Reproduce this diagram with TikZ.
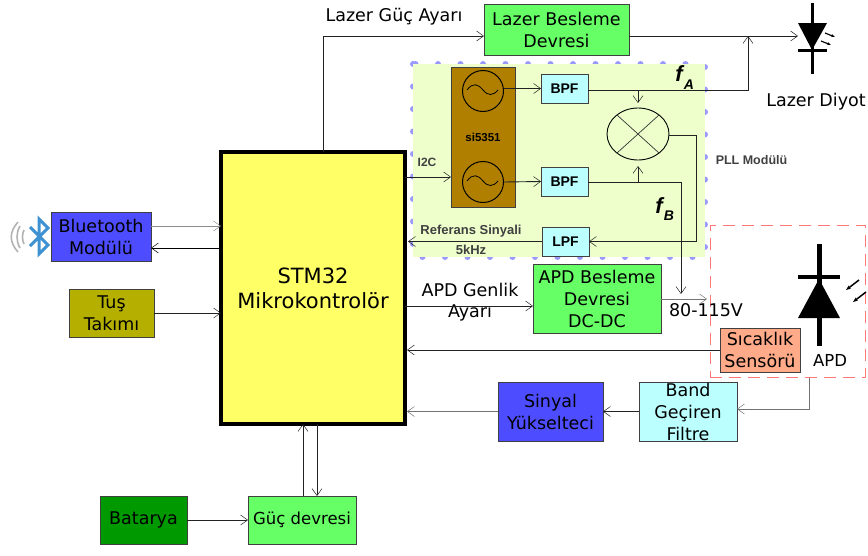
\documentclass[tikz,border=0pt]{standalone}
\usepackage{fontspec}
\setmainfont{DejaVu Sans}
\newfontfamily\arialf{Liberation Sans}
\usetikzlibrary{arrows.meta,shapes.geometric}
\definecolor{cgreen}{HTML}{66FF66}
\definecolor{cyell}{HTML}{FFFF66}
\definecolor{cpanel}{HTML}{EEFFCC}
\definecolor{cbrown}{HTML}{B07F00}
\definecolor{ccyan}{HTML}{BBFFFF}
\definecolor{cblue}{HTML}{4D4DFF}
\definecolor{colive}{HTML}{B5B000}
\definecolor{cdark}{HTML}{009900}
\definecolor{csal}{HTML}{FFAA88}
\definecolor{cdot}{HTML}{9999FF}
\definecolor{cdash}{HTML}{FF7777}
\definecolor{cline}{HTML}{222222}
\definecolor{cbt}{HTML}{3F92D2}
\tikzset{
  box/.style={draw=black!75,line width=1pt,inner sep=0pt,outer sep=0pt,align=center,
    font=\fontsize{17.5}{22}\selectfont,text=black},
  smallbox/.style={box,fill=ccyan,font=\arialf\fontsize{14}{16}\selectfont\bfseries},
  conn/.style={draw=cline,line width=0.9pt,-{Straight Barb[length=7pt,width=10pt,line width=0.5pt]}},
  lbl/.style={inner sep=0pt,outer sep=0pt,align=center,font=\fontsize{17.5}{21}\selectfont},
  slbl/.style={inner sep=0pt,outer sep=0pt,align=center,font=\arialf\fontsize{13}{20}\selectfont\bfseries\color{black!75}},
  osc/.style={circle,draw=black,line width=1pt,inner sep=0pt,outer sep=0pt,minimum size=41pt},
  wave/.style={line width=0.8pt},
  btwave/.style={line width=1.6pt,draw=black!30},
}
\begin{document}
\begin{tikzpicture}[x=1pt,y=-1pt]
\useasboundingbox (0,0) rectangle (868,555);
% PLL panel
\draw[cdot,line width=6pt,line cap=round,dash pattern=on 0pt off 22.5pt] (413,64) rectangle (705,257);
\node[fill=cpanel,inner sep=0pt,outer sep=0pt,minimum width=292pt,minimum height=193pt] (panel) at (559,160.5) {};
% APD dashed box
\node[draw=cdash,dash pattern=on 12pt off 7pt,line width=0.9pt,inner sep=0pt,minimum width=155pt,minimum height=152pt] (apdbox) at (787.5,301) {};
% Main boxes
\node[box,fill=cyell,draw=black,line width=3.5pt,minimum width=184pt,minimum height=272pt,font=\fontsize{21}{25}\selectfont] (mcu) at (313,288) {STM32\\Mikrokontrolör};
\node[box,fill=cgreen,minimum width=145pt,minimum height=51pt] (laser) at (556.5,29.5) {Lazer Besleme\\Devresi};
\node[box,fill=cblue,minimum width=100pt,minimum height=49pt] (bt) at (101,236.5) {Bluetooth\\Modülü};
\node[box,fill=colive,minimum width=85pt,minimum height=48pt] (tus) at (111.5,313) {Tuş\\Takımı};
\node[box,fill=cgreen,minimum width=128pt,minimum height=69pt] (apdps) at (597,298.5) {APD Besleme\\Devresi\\DC-DC};
\node[box,fill=csal,minimum width=80pt,minimum height=44pt] (temp) at (760,350) {Sıcaklık\\Sensörü};
\node[box,fill=ccyan,minimum width=98pt,minimum height=59pt] (band) at (688,411.5) {Band\\Geçiren\\Filtre};
\node[box,fill=cblue,minimum width=105pt,minimum height=59pt] (amp) at (550.5,411.5) {Sinyal\\Yükselteci};
\node[box,fill=cdark,minimum width=87pt,minimum height=48pt] (bat) at (143.5,520) {Batarya};
\node[box,fill=cgreen,minimum width=108pt,minimum height=48pt,font=\fontsize{16.5}{22}\selectfont] (pwr) at (302,520) {Güç devresi};
% PLL internals
\node[box,fill=cbrown,minimum width=64pt,minimum height=140pt,font=\arialf\fontsize{11.5}{12}\selectfont\bfseries] (si) at (483,137) {si5351};
\node[osc] (o1) at (483,91) {};
\node[osc] (o2) at (483,182) {};
\draw[wave] (467,90) .. controls (473,82) and (478,84) .. (483,90) .. controls (488,96) and (493,96) .. (498,90);
\draw[wave] (467,181) .. controls (473,173) and (478,175) .. (483,181) .. controls (488,187) and (493,187) .. (498,181);
\node[smallbox,minimum width=47pt,minimum height=29pt] (b1) at (564.5,88.5) {BPF};
\node[smallbox,minimum width=47pt,minimum height=29pt] (b2) at (564.5,181.5) {BPF};
\node[smallbox,minimum width=47pt,minimum height=29pt] (lpf) at (565.5,241.5) {LPF};
\node[draw=black,line width=0.9pt,ellipse,inner sep=0pt,outer sep=0pt,minimum width=62pt,minimum height=52pt] (mix) at (638,134) {};
\draw[line width=0.7pt,draw=black!80] (617,115) -- (659,153) (659,115) -- (617,153);
% Labels
\node[lbl] (l1) at (394,17) {Lazer Güç Ayarı};
\node[lbl] (l2) at (816,102) {Lazer Diyot};
\node[lbl] (l3) at (470,302.5) {APD Genlik\\Ayarı};
\node[lbl] (l4) at (706,310) {80-115V};
\node[lbl,font=\fontsize{16.5}{20}\selectfont] (l5) at (830,360) {APD};
\node[slbl,font=\arialf\fontsize{12}{14}\selectfont\bfseries\color{black!75}] (l6) at (427,162) {I2C};
\node[slbl] (l7) at (471,239.5) {Referans Sinyali\\5kHz};
\node[slbl,font=\arialf\fontsize{12.5}{14}\selectfont\bfseries\color{black!75}] (l8) at (751.5,160) {PLL Modülü};
\node[inner sep=0pt,font=\arialf\fontsize{22}{24}\selectfont\bfseries\itshape] (fa) at (679,74) {f};
\node[inner sep=0pt,font=\arialf\fontsize{14}{16}\selectfont\bfseries\itshape] (fas) at (689,85) {A};
\node[inner sep=0pt,font=\arialf\fontsize{22}{24}\selectfont\bfseries\itshape] (fb) at (659,206) {f};
\node[inner sep=0pt,font=\arialf\fontsize{14}{16}\selectfont\bfseries\itshape] (fbs) at (669,216) {B};
% Connectors
\coordinate (c1) at (323,36);
\coordinate (lj) at (748,36);
\coordinate (ldi) at (798,36);
\draw[conn] (mcu.north -| c1) -- (c1) -- (laser.west |- c1);
\draw[conn] (laser.east |- ldi) -- (ldi);
\coordinate (fa1) at (748,90);
\draw[conn] (b1.east |- fa1) -- (fa1) -- (lj);
\coordinate (ma) at (638,90);
\draw[conn,shorten >=5pt] (ma) -- (mix.north);
\coordinate (mb) at (638,182);
\draw[conn,shorten >=6pt] (mb) -- (mix.south);
\coordinate (fb1) at (681,182);
\coordinate (hv) at (681,294);
\draw[conn] (b2.east |- fb1) -- (fb1) -- (hv);
\draw[conn] (o1.east |- b1) -- (b1.west);
\draw[conn] (o2.east) -- (b2.west);
\coordinate (mr) at (696,135);
\draw[conn] (mix.east |- mr) -- (mr) -- (mr |- lpf) -- (lpf.east);
\draw[conn] (lpf.west) -- ([xshift=3pt]mcu.east |- lpf);
\coordinate (i2) at (408,177);
\draw[conn] (mcu.east |- i2) -- (si.west |- i2);
\coordinate (p1) at (707,299);
\draw[conn,draw=black!55] (apdps.east |- p1) -- (p1);
\coordinate (g1) at (405,306);
\draw[conn] (mcu.east |- g1) -- (apdps.west |- g1);
\draw[conn] (temp.west) -- ([xshift=2pt]mcu.east |- temp);
\coordinate (bo) at (809,378);
\coordinate (bp) at (809,409);
\draw[conn,draw=black!55] (bo) -- (bp) -- (band.east |- bp);
\draw[conn] (band.west) -- (amp.east);
\draw[conn,draw=black!55] (amp.west) -- ([xshift=2pt]mcu.east |- amp);
\coordinate (bt1) at (151,226);
\coordinate (bt2) at (151,248);
\draw[conn,draw=black!45] (bt.east |- bt1) -- (mcu.west |- bt1);
\draw[conn,draw=black] (mcu.west |- bt2) -- (bt.east |- bt2);
\draw[conn] (tus.east) -- (mcu.west |- tus);
\draw[conn] (bat.east) -- (pwr.west);
\coordinate (v1) at (303,460);
\coordinate (v2) at (317,460);
\draw[conn] (pwr.north -| v1) -- (mcu.south -| v1);
\draw[conn] (mcu.south -| v2) -- (pwr.north -| v2);
% Laser diode symbol
\draw[line width=3pt] (812,3) -- (812,74);
\fill[black] (798,23) -- (827,23) -- (812,50) -- cycle;
\draw[line width=3pt] (798,50) -- (827,50);
\draw[-{Stealth[length=4pt]},line width=1.2pt] (825,33) -- (835,37);
\draw[-{Stealth[length=4pt]},line width=1.2pt] (821,41) -- (831,45);
% APD symbol
\draw[line width=5pt] (819,244) -- (819,346);
\fill[black] (819,279) -- (840,318) -- (798,318) -- cycle;
\draw[line width=4.5pt] (798,277) -- (840,277);
\draw[-{Stealth[length=5pt]},line width=1.5pt] (859,280) -- (846,290);
\draw[-{Stealth[length=5pt]},line width=1.5pt] (866,292) -- (853,302);
% Bluetooth icon
\draw[line width=3pt,draw=cbt] (30,227) -- (48,245) -- (39,254) -- (39,219) -- (48,228) -- (30,246);
\draw[btwave] (24,230) .. controls (22,234) and (22,240) .. (24,244);
\draw[btwave] (20,226) .. controls (16,233) and (16,241) .. (20,248);
\draw[btwave] (18,222) .. controls (9,232) and (9,242) .. (18,252);
\end{tikzpicture}
\end{document}
